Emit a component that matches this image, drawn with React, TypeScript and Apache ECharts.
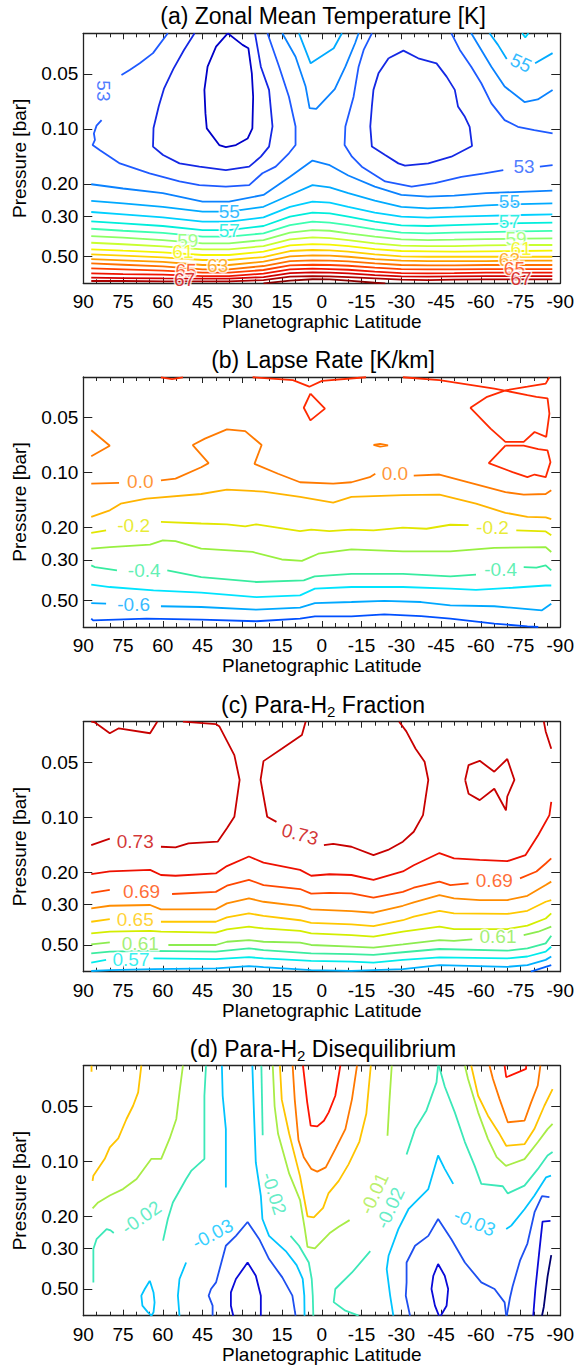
import React, { useEffect, useRef } from 'react';
import * as echarts from 'echarts';

type Pt = [number, number];
type Lab = [string, number, number, number, string];

const FONT = '"Liberation Sans", Arial, Helvetica, sans-serif';

// ---------------- axes ----------------
const P_MIN = 0.03;
const P_MAX = 0.7;
const P_TICKS = [0.05, 0.1, 0.2, 0.3, 0.5];
const LAT_MIN = -90;
const LAT_MAX = 90;
const LAT_STEP = 15;

const TITLES = [
  '(a) Zonal Mean Temperature [K]',
  '(b) Lapse Rate [K/km]',
  '(c) Para-H{s|2} Fraction',
  '(d) Para-H{s|2} Disequilibrium',
];
const X_NAME = 'Planetographic Latitude';
const Y_NAME = 'Pressure [bar]';

// ---------------- panel (a) temperature [K] ----------------
const A_COLORS: Record<string, string> = {
  '51': '#0000c8', '52': '#1428e4', '53': '#1e5aff', '54': '#0a82ff', '55': '#00aaff',
  '56': '#00d0ff', '57': '#00eedc', '58': '#3cffb0', '59': '#8cff64', '60': '#c8ff30',
  '61': '#f5f500', '62': '#ffd000', '63': '#ff9c00', '64': '#ff7000', '65': '#ff4000',
  '66': '#f01400', '67': '#d20000', '68': '#aa0000', '69': '#8c0000',
};
const A_T51: Pt[] = [[35.5,0.030],[29.9,0.0347],[27.7,0.0362],[26.4,0.0497],[25.9,0.0667],[26.2,0.0994],[28.0,0.113],[32.4,0.1226],[36.2,0.126],[38.7,0.1226],[43.4,0.0994],[43.9,0.0823],[44.3,0.0612],[43.1,0.0457],[39.9,0.0355],[35.5,0.030]];
const A_T52_L: Pt[] = [[48,0.030],[52,0.037],[56,0.047],[59.5,0.060],[61.5,0.075],[63.5,0.099],[63.7,0.125],[59.9,0.139],[53.7,0.1545],[46.2,0.161],[36.2,0.168],[27.4,0.161],[23.0,0.142],[19.9,0.125],[18.6,0.097],[19.9,0.0612],[23.0,0.0457],[25.2,0.030]];
const A_T52_R: Pt[] = [[-25.2,0.0411],[-30.8,0.0373],[-36.4,0.0411],[-43.3,0.0438],[-47.1,0.0518],[-50.2,0.0612],[-51.4,0.0754],[-54.0,0.0859],[-55.8,0.0974],[-56.7,0.124],[-48.9,0.142],[-40.2,0.1545],[-31.4,0.159],[-28.9,0.1545],[-23.9,0.139],[-18.9,0.125],[-18.3,0.097],[-18.9,0.0754],[-19.5,0.0612],[-21.4,0.0497],[-25.2,0.0411]];
const A_T53_LTOP: Pt[] = [[58.1,0.030],[63.7,0.0385],[68.7,0.0438],[72.5,0.0476],[75.6,0.0508]];
const A_T53_L: Pt[] = [[83.1,0.0896],[85.0,0.096],[86.0,0.106],[85.6,0.115],[86.5,0.1226],[83.7,0.131],[76.2,0.1545],[65.0,0.175],[53.7,0.194],[46.2,0.203],[36.2,0.207],[27.4,0.203],[22.4,0.175],[17.4,0.161],[12.4,0.136],[9.9,0.1226],[9.9,0.097],[12.4,0.0667],[16.1,0.0457],[20.5,0.030]];
const A_T53_RA: Pt[] = [[-18.9,0.030],[-15.8,0.037],[-13.9,0.0457],[-12.0,0.0667],[-8.9,0.097],[-8.6,0.1226],[-11.4,0.142],[-15.1,0.161],[-23.9,0.194],[-33.9,0.207],[-42.7,0.198],[-52.7,0.183],[-61.4,0.175],[-68.5,0.168]];
const A_T53_RB: Pt[] = [[-82.3,0.161],[-87.1,0.158]];
const A_T53_RT: Pt[] = [[-48.9,0.030],[-52.1,0.037],[-56.4,0.0457],[-60.2,0.0563],[-64.0,0.0725],[-69.0,0.0896],[-74.0,0.0974],[-80.2,0.1015],[-87.1,0.106]];
const A_T54_V: Pt[] = [[14.9,0.030],[9.9,0.0403],[6.1,0.0587],[4.6,0.077],[2.1,0.0778],[-4.9,0.0607],[-8.9,0.0457],[-12.6,0.0339],[-13.9,0.030]];
const A_T54_RT: Pt[] = [[-56.4,0.030],[-60.2,0.037],[-64.0,0.0457],[-69.0,0.0587],[-76.5,0.0713],[-81.5,0.069],[-87.1,0.0612]];
const A_T55_V: Pt[] = [[8.6,0.030],[4.2,0.0438],[-4.5,0.0362],[-7.6,0.030]];
const A_T55_RTA: Pt[] = [[-63.3,0.030],[-66.5,0.0347],[-69.8,0.0415]];
const A_T55_RTB: Pt[] = [[-80.5,0.0438],[-87.1,0.0385]];
const A_T56_RT: Pt[] = [[-75.6,0.030],[-76.8,0.0316],[-78.0,0.030]];
const A_T69: Pt[] = [[22,0.70],[12,0.676],[3.5,0.665],[-3,0.667],[-10,0.676],[-20,0.695],[-24,0.70]];

const A_LOW_LAT = [87, 75, 60, 45, 35, 22, 12, 3.5, -3, -10, -20, -30, -40, -50, -62, -75, -87];
const A_LOW_LEVELS = ['54','55','56','57','58','59','60','61','62','63','64','65','66','67','68'];
const A_LOW_P = [
  [0.201,0.212,0.225,0.250,0.250,0.230,0.183,0.149,0.158,0.180,0.207,0.230,0.235,0.232,0.225,0.221,0.218],
  [0.248,0.256,0.267,0.284,0.284,0.267,0.230,0.203,0.209,0.225,0.247,0.267,0.272,0.269,0.262,0.258,0.256],
  [0.285,0.294,0.305,0.322,0.322,0.305,0.267,0.250,0.253,0.267,0.287,0.302,0.306,0.302,0.299,0.296,0.294],
  [0.321,0.329,0.340,0.358,0.358,0.340,0.302,0.287,0.290,0.302,0.322,0.337,0.340,0.336,0.332,0.328,0.326],
  [0.352,0.361,0.371,0.389,0.389,0.373,0.336,0.322,0.326,0.336,0.355,0.370,0.373,0.370,0.367,0.364,0.362],
  [0.386,0.394,0.406,0.423,0.423,0.406,0.370,0.358,0.361,0.373,0.389,0.402,0.406,0.404,0.401,0.399,0.397],
  [0.420,0.428,0.440,0.456,0.456,0.438,0.402,0.392,0.396,0.406,0.423,0.436,0.438,0.438,0.434,0.432,0.432],
  [0.456,0.464,0.474,0.490,0.490,0.470,0.434,0.427,0.430,0.438,0.455,0.466,0.468,0.470,0.468,0.466,0.464],
  [0.486,0.494,0.505,0.522,0.522,0.503,0.466,0.460,0.462,0.470,0.486,0.499,0.501,0.501,0.501,0.501,0.501],
  [0.516,0.524,0.535,0.556,0.556,0.533,0.499,0.492,0.494,0.501,0.516,0.526,0.529,0.529,0.529,0.526,0.526],
  [0.545,0.554,0.565,0.587,0.587,0.563,0.529,0.524,0.526,0.531,0.545,0.556,0.558,0.558,0.556,0.556,0.556],
  [0.580,0.587,0.597,0.612,0.612,0.592,0.558,0.554,0.556,0.561,0.575,0.585,0.587,0.587,0.585,0.585,0.585],
  [0.617,0.623,0.628,0.639,0.639,0.620,0.587,0.582,0.585,0.590,0.605,0.615,0.617,0.615,0.612,0.612,0.612],
  [0.652,0.655,0.658,0.660,0.660,0.647,0.615,0.610,0.612,0.617,0.631,0.641,0.644,0.641,0.639,0.639,0.639],
  [0.680,0.680,0.683,0.683,0.683,0.672,0.644,0.639,0.641,0.647,0.658,0.669,0.672,0.669,0.666,0.666,0.666],
];
const A_SEGS: [string, Pt[]][] = [
  ['51', A_T51], ['52', A_T52_L], ['52', A_T52_R], ['53', A_T53_LTOP], ['53', A_T53_L],
  ['53', A_T53_RA], ['53', A_T53_RB], ['53', A_T53_RT], ['54', A_T54_V], ['54', A_T54_RT],
  ['55', A_T55_V], ['55', A_T55_RTA], ['55', A_T55_RTB], ['56', A_T56_RT], ['69', A_T69],
];
const A_LABELS: Lab[] = [
  ['53', 82.5, 0.062, -90, '53'], ['53', -76.3, 0.161, 0, '53'], ['55', -75.2, 0.0436, -25, '55'],
  ['55', 34.9, 0.284, 0, '55'], ['55', -70.8, 0.250, 0, '55'],
  ['57', 34.9, 0.358, 0, '57'], ['57', -70.8, 0.322, 0, '57'],
  ['59', 50.6, 0.406, 0, '59'], ['59', -73.3, 0.397, 0, '59'],
  ['61', 52.4, 0.470, 0, '61'], ['61', -75.2, 0.451, 0, '61'],
  ['63', 39.3, 0.562, 0, '63'], ['63', -70.8, 0.517, 0, '63'],
  ['65', 51.2, 0.597, 0, '65'], ['65', -72.7, 0.580, 0, '65'],
  ['67', 51.8, 0.666, 0, '67'], ['67', -75.2, 0.658, 0, '67'],
];

// ---------------- panel (b) lapse rate [K/km] ----------------
const B_COLORS: Record<string, string> = {
  '0.1': '#ff2a00', '0.0': '#ff7a00', '-0.1': '#ffb400', '-0.2': '#e2e600', '-0.3': '#98f040',
  '-0.4': '#38eca0', '-0.5': '#00e4ff', '-0.6': '#00a8ff', '-0.7': '#0050ff',
};
const B_P01_A: Pt[] = [[60.7,0.0301],[56.5,0.0308],[52.4,0.0301]];
const B_P01_B: Pt[] = [[26.1,0.0301],[10.9,0.0312],[4.7,0.0339],[-0.1,0.0315],[-16.7,0.0301]];
const B_P01_C: Pt[] = [[4.3,0.037],[6.8,0.0442],[4.3,0.0518],[-1.2,0.0447],[4.3,0.037]];
const B_P01_D: Pt[] = [[-30.6,0.0301],[-44.4,0.0312],[-65.1,0.0347],[-77.6,0.0377],[-81.0,0.0385],[-85.2,0.0393],[-85.9,0.0476],[-84.7,0.0638],[-80.3,0.060],[-76.2,0.068],[-69.3,0.068],[-63.7,0.0575],[-56.1,0.0442],[-62.4,0.0385],[-69.3,0.0355],[-77.6,0.0339],[-84.5,0.0326],[-85.9,0.0301]];
const B_P01_E: Pt[] = [[-69.3,0.0713],[-76.2,0.0713],[-81.7,0.0744],[-85.2,0.0757],[-86.3,0.0877],[-84.5,0.106],[-80.3,0.1025],[-77.6,0.106],[-72.0,0.0994],[-63.0,0.0888],[-69.3,0.0713]];
const B_Z0_A: Pt[] = [[87.0,0.0587],[80.0,0.0713],[87.0,0.0815]];
const B_Z0_B1: Pt[] = [[87.0,0.115],[76.5,0.114]];
const B_Z0_B2: Pt[] = [[60.7,0.1105],[55.2,0.108],[45.5,0.0935],[42.7,0.0888],[48.7,0.0707],[44.1,0.0652],[35.8,0.058],[28.9,0.0593],[22.7,0.0707],[25.4,0.0896],[16.5,0.1015],[8.2,0.113],[-4.3,0.115],[-11.2,0.113],[-18.1,0.106],[-20.2,0.1015]];
const B_Z0_B3: Pt[] = [[-34.7,0.104],[-44.4,0.1025],[-55.4,0.113],[-69.3,0.128],[-76.2,0.132],[-84.5,0.131],[-86.6,0.125]];
const B_Z0_C: Pt[] = [[-19.5,0.0705],[-22,0.0697],[-25,0.0710],[-22,0.0722],[-19.5,0.0705]];
const B_M01: Pt[] = [[87.0,0.175],[80.0,0.161],[75.9,0.148],[66.2,0.139],[45.5,0.131],[35.8,0.124],[22.0,0.127],[8.2,0.136],[-4.3,0.146],[-11.2,0.136],[-30.6,0.133],[-44.4,0.132],[-58.2,0.148],[-69.3,0.166],[-77.6,0.175],[-84.5,0.176],[-86.6,0.180]];
const B_M02_1: Pt[] = [[87,0.214],[81.4,0.207]];
const B_M02_2: Pt[] = [[60.7,0.186],[45.5,0.190],[35.8,0.192],[28.9,0.197],[24.7,0.192],[8.2,0.209],[4.0,0.205],[-2.9,0.209],[-11.2,0.205],[-19.5,0.207],[-30.6,0.200],[-39.5,0.203],[-48.5,0.193],[-55.4,0.194]];
const B_M02_3: Pt[] = [[-73.4,0.207],[-84.5,0.210],[-86.6,0.220]];
const B_M03: Pt[] = [[87,0.261],[80,0.256],[64.8,0.248],[60,0.235],[55.2,0.237],[45.5,0.261],[26.1,0.272],[15.1,0.299],[7.5,0.304],[1.3,0.278],[-11.2,0.263],[-30.6,0.270],[-48.5,0.270],[-65.1,0.258],[-84.5,0.256],[-86.6,0.272]];
const B_M04_1: Pt[] = [[87,0.322],[85.6,0.329],[77.3,0.343]];
const B_M04_2: Pt[] = [[58.3,0.343],[45.5,0.373],[24.7,0.397],[6.8,0.389],[2.7,0.370],[-11.2,0.358],[-30.6,0.358],[-48.5,0.370],[-58.2,0.362]];
const B_M04_3: Pt[] = [[-76.2,0.329],[-81,0.331],[-84.5,0.322],[-86.6,0.343]];
const B_M05: Pt[] = [[87,0.410],[80,0.423],[63.5,0.441],[45.5,0.454],[24.7,0.480],[8.2,0.470],[2.6,0.432],[-11.2,0.423],[-30.6,0.423],[-48.5,0.432],[-58.2,0.438],[-72.0,0.427],[-84.5,0.415],[-86.6,0.415]];
const B_M06_1: Pt[] = [[87,0.518],[81.4,0.522]];
const B_M06_2: Pt[] = [[60.7,0.539],[45.5,0.544],[24.7,0.563],[8.2,0.548],[2.6,0.518],[-11.2,0.511],[-23.6,0.504],[-37.5,0.511],[-48.5,0.533],[-65.1,0.539],[-83.1,0.567],[-86.6,0.522]];
const B_M07: Pt[] = [[87,0.630],[86.3,0.644],[66.2,0.630],[45.5,0.638],[24.7,0.651],[8.2,0.630],[2.6,0.612],[-11.2,0.612],[-23.6,0.597],[-37.5,0.610],[-48.5,0.630],[-65.1,0.671],[-77.6,0.694],[-81.7,0.700]];
const B_SEGS: [string, Pt[]][] = [
  ['0.1', B_P01_A], ['0.1', B_P01_B], ['0.1', B_P01_C], ['0.1', B_P01_D], ['0.1', B_P01_E],
  ['0.0', B_Z0_A], ['0.0', B_Z0_B1], ['0.0', B_Z0_B2], ['0.0', B_Z0_B3], ['0.0', B_Z0_C],
  ['-0.1', B_M01], ['-0.2', B_M02_1], ['-0.2', B_M02_2], ['-0.2', B_M02_3], ['-0.3', B_M03],
  ['-0.4', B_M04_1], ['-0.4', B_M04_2], ['-0.4', B_M04_3], ['-0.5', B_M05],
  ['-0.6', B_M06_1], ['-0.6', B_M06_2], ['-0.7', B_M07],
];
const B_LABELS: Lab[] = [
  ['0.0', 68.5, 0.112, 0, '0.0'], ['0.0', -27.6, 0.101, 0, '0.0'],
  ['-0.2', 71.0, 0.196, 0, '-0.2'], ['-0.2', -64.4, 0.199, 0, '-0.2'],
  ['-0.4', 67.0, 0.343, 0, '-0.4'], ['-0.4', -67.5, 0.338, 0, '-0.4'],
  ['-0.6', 71.0, 0.524, 0, '-0.6'],
];

// ---------------- panel (c) para-H2 fraction ----------------
const C_COLORS: Record<string, string> = {
  '0.73': '#c80000', '0.71': '#ee1000', '0.69': '#ff4800', '0.67': '#ff8c00', '0.65': '#ffc800',
  '0.63': '#d4ee00', '0.61': '#8cec50', '0.59': '#3ceca0', '0.57': '#00ecec', '0.55': '#00b0ff', '0.53': '#0060ff',
};
const C_73_A: Pt[] = [[87,0.030],[85.6,0.0303],[80,0.0347],[76.6,0.0326],[64.8,0.0347],[62.1,0.030]];
const C_73_B1: Pt[] = [[52.4,0.030],[40,0.0309],[38.6,0.0319],[33,0.0457],[31,0.0625],[33,0.0994],[35.8,0.115],[39.3,0.136],[50.3,0.139],[55.2,0.146],[60.7,0.145]];
const C_73_B2: Pt[] = [[80,0.131],[87,0.142]];
const C_73_C1: Pt[] = [[6.1,0.030],[7.5,0.0355],[15.1,0.0422],[22,0.0493],[23.1,0.0625],[20.6,0.0994],[17.1,0.106]];
const C_73_C2: Pt[] = [[-0.8,0.142],[-4.3,0.140],[-11.2,0.145],[-19.5,0.161],[-25,0.151],[-30.6,0.136],[-34.7,0.120],[-38.2,0.0974],[-40.2,0.0625],[-38.8,0.0497],[-35.4,0.0422],[-31.9,0.0339],[-29.2,0.030]];
const C_73_D: Pt[] = [[-54.1,0.0625],[-55.4,0.0518],[-59.6,0.0491],[-65.1,0.0563],[-70,0.048],[-72.7,0.0625],[-70,0.077],[-69.5,0.0916],[-65.1,0.0698],[-59.6,0.0806],[-55.4,0.0744],[-54.1,0.0625]];
const C_73_E: Pt[] = [[-83.8,0.030],[-84.5,0.0339],[-86.6,0.0422]];
const C_71: Pt[] = [[87,0.205],[80,0.198],[64.8,0.194],[60.7,0.207],[55.2,0.209],[40,0.203],[35.8,0.185],[27.5,0.164],[22,0.177],[8.2,0.194],[4.0,0.209],[-2.9,0.205],[-11.2,0.207],[-19.5,0.220],[-30.6,0.198],[-34.7,0.183],[-44.4,0.157],[-49.9,0.168],[-59.6,0.171],[-70,0.174],[-76.9,0.161],[-81.7,0.125],[-85.9,0.0974],[-86.6,0.0823]];
const C_69_1: Pt[] = [[87,0.259],[80,0.250]];
const C_69_2: Pt[] = [[56.5,0.263],[40,0.256],[35.8,0.237],[27.5,0.220],[22,0.235],[8.2,0.247],[4,0.262],[-2.9,0.259],[-11.2,0.261],[-19.5,0.275],[-30.6,0.256],[-34.7,0.243],[-44.4,0.225],[-48.5,0.235],[-55.4,0.230]];
const C_69_3: Pt[] = [[-74.8,0.216],[-81,0.198],[-84.5,0.179],[-86.6,0.168]];
const C_67: Pt[] = [[87,0.315],[80,0.305],[64.8,0.302],[60.7,0.319],[40,0.319],[35.8,0.296],[27.5,0.278],[22,0.290],[8.2,0.306],[4,0.319],[-11.2,0.326],[-19.5,0.333],[-30.6,0.305],[-34.7,0.292],[-44.4,0.267],[-49.9,0.278],[-59.6,0.284],[-70,0.284],[-77.6,0.269],[-84.5,0.235],[-86.6,0.225]];
const C_65_1: Pt[] = [[87,0.373],[80,0.361]];
const C_65_2: Pt[] = [[60.7,0.373],[40,0.373],[35.8,0.353],[27.5,0.336],[22,0.346],[8.2,0.366],[4,0.378],[-11.2,0.386],[-19.5,0.394],[-30.6,0.366],[-34.7,0.350],[-44.4,0.325],[-49.9,0.336],[-70,0.338],[-77.6,0.325],[-84.5,0.290],[-86.6,0.284]];
const C_63: Pt[] = [[87,0.432],[80,0.423],[64.8,0.419],[60.7,0.423],[40,0.428],[35.8,0.411],[27.5,0.397],[22,0.406],[8.2,0.418],[4,0.432],[-11.2,0.441],[-19.5,0.450],[-30.6,0.423],[-44.4,0.397],[-49.9,0.409],[-70,0.409],[-77.6,0.392],[-84.5,0.358],[-86.6,0.336]];
const C_61_1: Pt[] = [[87,0.496],[80,0.484]];
const C_61_2: Pt[] = [[57.9,0.500],[40,0.500],[35.8,0.480],[27.5,0.470],[22,0.480],[8.2,0.485],[4,0.500],[-11.2,0.511],[-19.5,0.517],[-30.6,0.496],[-44.4,0.470],[-49.9,0.475],[-56.8,0.466]];
const C_61_3: Pt[] = [[-76.2,0.441],[-81.7,0.423],[-86.6,0.397]];
const C_59: Pt[] = [[87,0.555],[80,0.544],[64.8,0.539],[40,0.544],[27.5,0.522],[22,0.533],[4,0.555],[-11.2,0.561],[-19.5,0.567],[-30.6,0.548],[-44.4,0.526],[-70,0.537],[-77.6,0.522],[-84.5,0.490],[-86.6,0.445]];
const C_57_1: Pt[] = [[87,0.625],[81.4,0.603]];
const C_57_2: Pt[] = [[63.5,0.592],[40,0.597],[27.5,0.583],[22,0.592],[4,0.610],[-11.2,0.617],[-19.5,0.625],[-30.6,0.603],[-44.4,0.585],[-70,0.592],[-77.6,0.578],[-84.5,0.544],[-86.6,0.511]];
const C_55: Pt[] = [[87,0.694],[80,0.686],[63.5,0.677],[40,0.671],[27.5,0.652],[22,0.661],[4,0.686],[-11.2,0.692],[-30.6,0.677],[-44.4,0.644],[-70,0.658],[-77.6,0.644],[-84.5,0.603],[-86.6,0.578]];
const C_53: Pt[] = [[-78.9,0.700],[-84.5,0.658],[-86.6,0.644]];
const C_SEGS: [string, Pt[]][] = [
  ['0.73', C_73_A], ['0.73', C_73_B1], ['0.73', C_73_B2], ['0.73', C_73_C1], ['0.73', C_73_C2],
  ['0.73', C_73_D], ['0.73', C_73_E], ['0.71', C_71], ['0.69', C_69_1], ['0.69', C_69_2], ['0.69', C_69_3],
  ['0.67', C_67], ['0.65', C_65_1], ['0.65', C_65_2], ['0.63', C_63], ['0.61', C_61_1], ['0.61', C_61_2],
  ['0.61', C_61_3], ['0.59', C_59], ['0.57', C_57_1], ['0.57', C_57_2], ['0.55', C_55], ['0.53', C_53],
];
const C_LABELS: Lab[] = [
  ['0.73', 70.4, 0.135, 0, '0.73'], ['0.73', 8.2, 0.124, -15, '0.73'],
  ['0.69', 68.0, 0.254, 0, '0.69'], ['0.69', -65.1, 0.223, 0, '0.69'],
  ['0.65', 70.4, 0.364, 0, '0.65'],
  ['0.61', 68.5, 0.490, 0, '0.61'], ['0.61', -66.5, 0.450, 0, '0.61'],
  ['0.57', 72.0, 0.598, 0, '0.57'],
];

// ---------------- panel (d) para-H2 disequilibrium ----------------
const D_COLORS: Record<string, string> = {
  '0.02': '#ff1400', '0.01': '#ff7800', '0.00': '#ffc400', '-0.01': '#a8ec46', '-0.02': '#3ce8b8',
  '-0.03': '#00c4ff', '-0.04': '#1e50f0', '-0.05': '#0a0ad8', '-0.06': '#000070',
};
const D_P02_C: Pt[] = [[7.1,0.030],[5.5,0.0476],[4.2,0.0638],[1.7,0.0644],[-0.8,0.060],[-2.6,0.054],[-5.1,0.0438],[-7.0,0.030]];
const D_P02_R: Pt[] = [[-69.0,0.030],[-69.6,0.0347],[-77.1,0.0312],[-77.1,0.030]];
const D_P01_C: Pt[] = [[11.0,0.030],[10.2,0.046],[8.8,0.0765],[6.8,0.095],[4.0,0.110],[1.7,0.114],[-1.5,0.108],[-5.1,0.0859],[-8.9,0.0667],[-11.4,0.0457],[-13.3,0.030]];
const D_P01_R: Pt[] = [[-63.3,0.030],[-64.6,0.0355],[-67.1,0.0457],[-70.2,0.0612],[-76.5,0.060],[-79.0,0.0476],[-81.5,0.0385],[-82.5,0.030]];
const D_Z0_C: Pt[] = [[15.8,0.030],[15.1,0.046],[12.3,0.0707],[8.2,0.121],[5.4,0.200],[3.0,0.203],[-0.5,0.180],[-2.5,0.150],[-6.4,0.128],[-10.1,0.104],[-14.2,0.078],[-16.8,0.055],[-18.5,0.030]];
const D_Z0_R: Pt[] = [[-56.4,0.030],[-59.0,0.0438],[-62.7,0.0563],[-67.1,0.071],[-69.6,0.0823],[-76.5,0.0806],[-80.2,0.0667],[-84.0,0.0497],[-87.1,0.0403]];
const D_Z0_L: Pt[] = [[68.1,0.030],[69.3,0.042],[71.2,0.0497],[73.7,0.0587],[76.8,0.075],[80.0,0.084],[81.9,0.097],[86.2,0.120],[86.5,0.128]];
const D_Z0_LT: Pt[] = [[86.9,0.030],[86.9,0.0324]];
const D_M01_L: Pt[] = [[52.4,0.030],[53.7,0.042],[54.9,0.0587],[57.4,0.075],[60.6,0.097],[64.3,0.097],[69.9,0.125],[75.0,0.142],[80.0,0.154],[84.4,0.168],[86.5,0.181]];
const D_M01_C1: Pt[] = [[18.5,0.030],[17.8,0.050],[16.5,0.0707],[12.3,0.117],[8.2,0.163],[6.5,0.230],[5.4,0.294],[2.6,0.300],[-2.9,0.248],[-6.4,0.228],[-10.5,0.210]];
const D_M01_C2: Pt[] = [[-24.8,0.0725],[-25.5,0.0476],[-26.4,0.030]];
const D_M01_R: Pt[] = [[-54.0,0.030],[-55.2,0.0355],[-59.0,0.054],[-62.7,0.0754],[-66.0,0.095],[-69.5,0.106],[-76.5,0.0974],[-81.5,0.0787],[-85.2,0.0667],[-87.1,0.0625]];
const D_M02_L1: Pt[] = [[43.7,0.030],[44.3,0.0438],[44.3,0.097],[49.3,0.113],[51.2,0.125],[56.2,0.168],[58.1,0.207],[59.9,0.272]];
const D_M02_L2: Pt[] = [[86.2,0.460],[86.2,0.302],[85.0,0.267],[81.2,0.235],[79.7,0.239],[78.5,0.247]];
const D_M02_C1: Pt[] = [[22.8,0.030],[22.3,0.072]];
const D_M02_C2: Pt[] = [[11.8,0.256],[8.6,0.290],[4.9,0.358],[3.8,0.441],[3.4,0.544],[3.2,0.700]];
const D_M02_R1A: Pt[] = [[-43.9,0.030],[-43.3,0.037],[-39.5,0.0527],[-35.2,0.0667],[-32.0,0.0918]];
const D_M02_R1B: Pt[] = [[-18.3,0.310],[-11.4,0.406],[-5.1,0.500],[-4.5,0.590],[-8.9,0.657],[-13.9,0.700]];
const D_M02_R2: Pt[] = [[-44.2,0.030],[-46.4,0.039],[-50.2,0.054],[-54.0,0.0785],[-57.7,0.106],[-60.2,0.133],[-68.3,0.137],[-70.2,0.150],[-76.5,0.136],[-81.5,0.1105],[-85.2,0.093],[-87.1,0.089]];
const D_M03_L1: Pt[] = [[37.7,0.030],[37.4,0.0438],[36.2,0.0667],[36.2,0.139]];
const D_M03_L2: Pt[] = [[51.2,0.358],[53.7,0.441],[54.3,0.544],[53.7,0.700]];
const D_M03_C: Pt[] = [[26.2,0.030],[25.6,0.054],[24.9,0.1015],[23.0,0.1545],[22.4,0.207],[19.9,0.256],[13.6,0.310],[9.5,0.370],[7.2,0.440],[6.6,0.544],[6.5,0.700]];
const D_M03_LOOP: Pt[] = [[64.9,0.451],[63.5,0.522],[63.1,0.592],[63.5,0.671],[64.3,0.700],[65.6,0.671],[67.7,0.617],[68.1,0.544],[66.8,0.500],[64.9,0.451]];
const D_M03_R1: Pt[] = [[-49.6,0.133],[-46.4,0.110],[-43.9,0.093],[-40.2,0.142],[-35.2,0.168],[-32.7,0.183],[-28.9,0.235],[-25.2,0.329],[-24.5,0.389],[-25.8,0.544],[-27.0,0.700]];
const D_M03_R2: Pt[] = [[-69.6,0.235],[-71.5,0.225],[-76.5,0.183],[-80.2,0.1545],[-84.6,0.1226],[-86.5,0.120]];
const D_M04_L: Pt[] = [[41.2,0.700],[41.2,0.617],[42.7,0.544],[41.8,0.500],[39.9,0.460],[36.2,0.290],[32.4,0.256],[28.0,0.215],[23.6,0.267],[19.9,0.343],[14.9,0.432],[11.1,0.544],[9.9,0.700]];
const D_M04_R: Pt[] = [[-33.3,0.700],[-31.7,0.544],[-32.0,0.460],[-32.0,0.358],[-35.2,0.290],[-40.2,0.256],[-43.9,0.207],[-48.9,0.267],[-54.0,0.358],[-60.2,0.460],[-65.2,0.500],[-69.0,0.592],[-69.6,0.700]];
const D_M04_RE: Pt[] = [[-69.8,0.700],[-70.3,0.640],[-71.0,0.560],[-72.0,0.485],[-74.8,0.350],[-77.6,0.282],[-80.3,0.190],[-83.1,0.155],[-85.9,0.157]];
const D_M05_L: Pt[] = [[33.4,0.700],[34.3,0.617],[34.3,0.522],[32.4,0.441],[28.0,0.358],[24.9,0.423],[23.0,0.544],[23.0,0.700]];
const D_M05_R: Pt[] = [[-44.2,0.700],[-42.7,0.617],[-41.4,0.500],[-42.1,0.423],[-43.9,0.365],[-46.4,0.423],[-47.7,0.500],[-47.1,0.617],[-44.9,0.700]];
const D_M05_RE: Pt[] = [[-79.8,0.700],[-80.6,0.500],[-82.0,0.320],[-83.3,0.214],[-86.3,0.212]];
const D_M06_RE: Pt[] = [[-83.1,0.700],[-83.8,0.625],[-85.2,0.428],[-86.6,0.326]];
const D_SEGS: [string, Pt[]][] = [
  ['0.02', D_P02_C], ['0.02', D_P02_R], ['0.01', D_P01_C], ['0.01', D_P01_R],
  ['0.00', D_Z0_C], ['0.00', D_Z0_R], ['0.00', D_Z0_L], ['0.00', D_Z0_LT],
  ['-0.01', D_M01_L], ['-0.01', D_M01_C1], ['-0.01', D_M01_C2], ['-0.01', D_M01_R],
  ['-0.02', D_M02_L1], ['-0.02', D_M02_L2], ['-0.02', D_M02_C1], ['-0.02', D_M02_C2],
  ['-0.02', D_M02_R1A], ['-0.02', D_M02_R1B], ['-0.02', D_M02_R2],
  ['-0.03', D_M03_L1], ['-0.03', D_M03_L2], ['-0.03', D_M03_C], ['-0.03', D_M03_LOOP],
  ['-0.03', D_M03_R1], ['-0.03', D_M03_R2],
  ['-0.04', D_M04_L], ['-0.04', D_M04_R], ['-0.04', D_M04_RE],
  ['-0.05', D_M05_L], ['-0.05', D_M05_R], ['-0.05', D_M05_RE], ['-0.06', D_M06_RE],
];
const D_LABELS: Lab[] = [
  ['-0.02', 68.1, 0.203, 35, '-0.02'], ['-0.03', 41.2, 0.250, 28, '-0.03'],
  ['-0.02', 18.0, 0.150, -72, '-0.02'], ['-0.01', -19.8, 0.150, 65, '-0.01'],
  ['-0.02', -25.8, 0.180, 65, '-0.02'], ['-0.03', -57.7, 0.216, -23, '-0.03'],
];

// ---------------- layout (px) ----------------
const W = 577;
const H = 1367;
const GRID_LEFT = 83.3;
const GRID_W = 479.4;
const GRID_H = 250;
const PANEL_TOPS = [33.3, 377, 721.7, 1065.7];
const TITLE_Y = [16, 360, 704.5, 1049];

const lg = (p: number) => Math.log10(p);

function buildOption() {
  const grid = PANEL_TOPS.map((t) => ({ left: GRID_LEFT, top: t, width: GRID_W, height: GRID_H, containLabel: false }));
  const lineStyleAxis = { color: '#222', width: 1.3 };
  const tickStyle = { color: '#222', width: 1 };
  const pTickVals = P_TICKS.map(lg);
  const xAxis: any[] = [];
  const yAxis: any[] = [];
  PANEL_TOPS.forEach((_, gi) => {
    const xCommon = {
      gridIndex: gi, type: 'value', min: LAT_MIN, max: LAT_MAX, interval: LAT_STEP, inverse: true,
      axisLine: { show: true, onZero: false, lineStyle: lineStyleAxis },
      axisTick: { show: true, inside: true, length: 6, lineStyle: tickStyle },
      minorTick: { show: true, splitNumber: 3, length: 4, lineStyle: tickStyle },
      splitLine: { show: false }, minorSplitLine: { show: false },
    };
    xAxis.push({
      ...xCommon, position: 'bottom',
      axisLabel: { show: true, margin: 9, fontSize: 19, fontFamily: FONT, color: '#000' },
      name: X_NAME, nameLocation: 'middle', nameGap: 28,
      nameTextStyle: { fontSize: 19, fontFamily: FONT, color: '#000' },
    });
    xAxis.push({ ...xCommon, position: 'top', axisLabel: { show: false } });
    const yCommon = {
      gridIndex: gi, type: 'value', min: lg(P_MIN), max: lg(P_MAX), inverse: true,
      axisLine: { show: true, onZero: false, lineStyle: lineStyleAxis },
      axisTick: { show: true, inside: true, length: 9, customValues: pTickVals, lineStyle: tickStyle },
      splitLine: { show: false },
    };
    yAxis.push({
      ...yCommon, position: 'left',
      axisLabel: {
        show: true, customValues: pTickVals, margin: 5, fontSize: 19, fontFamily: FONT, color: '#000',
        formatter: (v: number) => Math.pow(10, v).toFixed(2),
      },
      name: Y_NAME, nameLocation: 'middle', nameGap: 54, nameRotate: 90,
      nameTextStyle: { fontSize: 19, fontFamily: FONT, color: '#000' },
    });
    yAxis.push({ ...yCommon, position: 'right', axisLabel: { show: false } });
  });

  const series: any[] = [];
  const addLine = (gi: number, color: string, pts: Pt[]) => {
    series.push({
      type: 'line', xAxisIndex: gi * 2, yAxisIndex: gi * 2,
      data: pts.map(([lat, p]) => [lat, lg(p)]),
      showSymbol: false, symbol: 'none', silent: true, clip: true, z: 2,
      lineStyle: { color, width: 1.8 },
    });
  };
  const addLabels = (gi: number, labels: Lab[], colors: Record<string, string>) => {
    series.push({
      type: 'scatter', xAxisIndex: gi * 2, yAxisIndex: gi * 2, symbolSize: 1, silent: true, z: 5,
      itemStyle: { color: 'rgba(0,0,0,0)' },
      label: {
        show: true, position: 'inside', fontSize: 19, fontFamily: FONT,
        textBorderColor: '#fff', textBorderWidth: 3,
      },
      data: labels.map(([text, lat, p, rot, lev]) => ({
        value: [lat, lg(p)], name: text,
        label: { show: true, formatter: text, rotate: rot, color: colors[lev] },
      })),
    });
  };

  A_SEGS.forEach(([lev, pts]) => addLine(0, A_COLORS[lev], pts));
  A_LOW_LEVELS.forEach((lev, i) => {
    addLine(0, A_COLORS[lev], A_LOW_LAT.map((lat, j) => [lat, A_LOW_P[i][j]] as Pt));
  });
  addLabels(0, A_LABELS, A_COLORS);
  B_SEGS.forEach(([lev, pts]) => addLine(1, B_COLORS[lev], pts));
  addLabels(1, B_LABELS, B_COLORS);
  C_SEGS.forEach(([lev, pts]) => addLine(2, C_COLORS[lev], pts));
  addLabels(2, C_LABELS, C_COLORS);
  D_SEGS.forEach(([lev, pts]) => addLine(3, D_COLORS[lev], pts));
  addLabels(3, D_LABELS, D_COLORS);

  const graphic = TITLES.map((t, i) => ({
    type: 'text', x: GRID_LEFT + GRID_W / 2, y: TITLE_Y[i], silent: true,
    style: {
      text: t, fill: '#000', font: `23px ${FONT}`, lineHeight: 28,
      textAlign: 'center', textVerticalAlign: 'middle',
      rich: { s: { fontSize: 15, fontFamily: FONT, lineHeight: 14, verticalAlign: 'bottom', fill: '#000' } },
    },
  }));

  return {
    animation: false,
    backgroundColor: '#fff',
    grid, xAxis, yAxis, series, graphic,
  };
}

export default function App() {
  const ref = useRef<HTMLDivElement | null>(null);
  useEffect(() => {
    if (!ref.current) return;
    const chart = echarts.init(ref.current, null, { renderer: 'svg', width: W, height: H });
    chart.setOption(buildOption() as any);
    return () => chart.dispose();
  }, []);
  return (
    <div
      ref={ref}
      style={{ position: 'absolute', left: 0, top: 0, width: W, height: H, background: '#fff' }}
    />
  );
}
